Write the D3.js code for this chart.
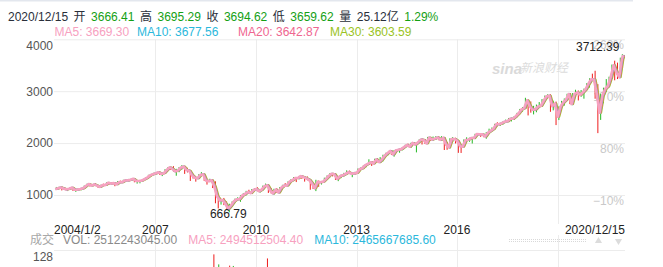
<!DOCTYPE html>
<html>
<head>
<meta charset="utf-8">
<script src="https://cdn.jsdelivr.net/npm/d3@7"></script>
<style>
  html, body { margin: 0; padding: 0; background: #fff; }
  svg text { font-family: "Liberation Sans", Arial, "Noto Sans CJK SC", sans-serif; font-size: 12px; }
</style>
</head>
<body>
<div id="chart"></div>
<script>
/* global d3 */

// ---- data ----------------------------------------------------------------
var firstMonth = "2004-01",
	startDate = "2004-01-02",
	endDate = "2020-12-15";

// monthly bars, one row per year (2004 .. 2020)
var opens = [
	1112, 1131, 1145, 1126, 1107, 1121, 1141, 1102, 1104, 1115, 1130, 1174,
	1212, 1181, 1204, 1181, 1157, 1192, 1191, 1234, 1220, 1229, 1207, 1249,
	1248, 1280, 1281, 1295, 1311, 1270, 1270, 1277, 1304, 1336, 1378, 1401,
	1418, 1438, 1407, 1421, 1482, 1531, 1503, 1455, 1474, 1527, 1549, 1481,
	1468, 1379, 1331, 1323, 1386, 1400, 1280, 1267, 1283, 1164, 969, 896,
	903, 823, 730, 798, 873, 919, 919, 987, 1021, 1057, 1036, 1096,
	1115, 1074, 1104, 1169, 1187, 1089, 1031, 1102, 1049, 1141, 1183, 1181,
	1258, 1286, 1327, 1326, 1364, 1345, 1321, 1292, 1219, 1131, 1253, 1247,
	1258, 1312, 1366, 1408, 1398, 1310, 1362, 1379, 1407, 1441, 1412, 1416,
	1426, 1498, 1515, 1569, 1598, 1631, 1606, 1686, 1633, 1682, 1757, 1806,
	1848, 1783, 1859, 1872, 1884, 1924, 1960, 1931, 2003, 1972, 2018, 2068,
	2059, 1995, 2105, 2068, 2086, 2107, 2063, 2104, 1972, 1920, 2079, 2080,
	2038, 1940, 1932, 2060, 2065, 2097, 2099, 2174, 2171, 2168, 2126, 2199,
	2251, 2279, 2364, 2363, 2384, 2412, 2423, 2470, 2472, 2521, 2575, 2648,
	2684, 2824, 2714, 2641, 2648, 2705, 2718, 2816, 2902, 2914, 2712, 2760,
	2507, 2704, 2784, 2849, 2946, 2752, 2971, 2980, 2926, 2977, 3050, 3141,
	3231, 3226, 2974, 2499, 2912, 3044, 3100, 3271, 3500, 3363, 3296, 3645
];
var highs = [
	1155, 1159, 1163, 1150, 1128, 1146, 1141, 1109, 1131, 1132, 1183, 1218,
	1217, 1212, 1229, 1192, 1199, 1219, 1246, 1246, 1243, 1233, 1270, 1276,
	1294, 1297, 1310, 1318, 1326, 1290, 1283, 1306, 1340, 1389, 1407, 1431,
	1441, 1461, 1438, 1499, 1535, 1541, 1556, 1504, 1538, 1576, 1552, 1524,
	1471, 1396, 1344, 1397, 1440, 1405, 1292, 1313, 1303, 1264, 1007, 918,
	943, 876, 832, 877, 930, 956, 997, 1039, 1080, 1101, 1113, 1130,
	1150, 1112, 1181, 1220, 1205, 1131, 1120, 1129, 1150, 1196, 1228, 1263,
	1303, 1345, 1333, 1367, 1371, 1345, 1357, 1307, 1230, 1293, 1278, 1269,
	1334, 1378, 1420, 1422, 1416, 1363, 1392, 1427, 1475, 1470, 1434, 1448,
	1510, 1530, 1570, 1598, 1688, 1654, 1698, 1709, 1730, 1776, 1813, 1849,
	1851, 1867, 1884, 1897, 1924, 1968, 1991, 2006, 2019, 2019, 2075, 2094,
	2072, 2119, 2117, 2126, 2135, 2130, 2133, 2113, 2021, 2094, 2116, 2104,
	2038, 1963, 2072, 2112, 2104, 2120, 2179, 2194, 2188, 2170, 2214, 2278,
	2301, 2371, 2401, 2392, 2419, 2454, 2484, 2491, 2520, 2582, 2658, 2695,
	2873, 2835, 2802, 2718, 2743, 2791, 2848, 2917, 2941, 2940, 2816, 2800,
	2708, 2814, 2860, 2950, 2954, 2964, 3028, 3014, 3022, 3050, 3154, 3248,
	3338, 3394, 3136, 2955, 3068, 3233, 3280, 3514, 3588, 3550, 3646, 3712.39
];
var lows = [
	1105, 1124, 1088, 1105, 1076, 1113, 1078, 1060, 1102, 1091, 1128, 1163,
	1163, 1180, 1171, 1137, 1146, 1188, 1184, 1201, 1205, 1169, 1201, 1246,
	1246, 1253, 1268, 1282, 1245, 1219, 1225, 1260, 1290, 1328, 1361, 1385,
	1403, 1389, 1364, 1412, 1476, 1484, 1451, 1371, 1439, 1490, 1407, 1435,
	1271, 1317, 1257, 1312, 1373, 1272, 1200, 1248, 1134, 840, 741, 815,
	805, 734, 666.79, 784, 866, 888, 869, 978, 991, 1020, 1030, 1086,
	1071, 1045, 1102, 1165, 1040, 1029, 1011, 1040, 1039, 1131, 1174, 1178,
	1257, 1283, 1249, 1299, 1311, 1258, 1283, 1101, 1115, 1075, 1158, 1202,
	1258, 1312, 1340, 1358, 1291, 1267, 1325, 1355, 1397, 1403, 1343, 1398,
	1426, 1485, 1501, 1536, 1582, 1560, 1605, 1627, 1633, 1647, 1747, 1768,
	1770, 1738, 1834, 1814, 1860, 1915, 1930, 1905, 1964, 1821, 2002, 1973,
	1988, 1981, 2040, 2048, 2067, 2056, 2044, 1867, 1871, 1893, 2020, 1993,
	1812, 1810, 1931, 2033, 2025, 1992, 2075, 2148, 2120, 2114, 2084, 2188,
	2245, 2271, 2322, 2329, 2353, 2405, 2408, 2417, 2446, 2520, 2567, 2605,
	2683, 2533, 2586, 2553, 2594, 2698, 2698, 2796, 2864, 2603, 2631, 2347,
	2444, 2682, 2722, 2849, 2751, 2729, 2953, 2822, 2892, 2856, 3050, 3070,
	3214, 2855, 2192, 2447, 2767, 2986, 3073, 3238, 3210, 3234, 3280, 3633
];
var closes = [
	1131, 1145, 1126, 1107, 1121, 1141, 1102, 1104, 1115, 1130, 1174, 1212,
	1181, 1204, 1181, 1157, 1192, 1191, 1234, 1220, 1229, 1207, 1249, 1248,
	1280, 1281, 1295, 1311, 1270, 1270, 1277, 1304, 1336, 1378, 1401, 1418,
	1438, 1407, 1421, 1482, 1531, 1503, 1455, 1474, 1527, 1549, 1481, 1468,
	1379, 1331, 1323, 1386, 1400, 1280, 1267, 1283, 1166, 969, 896, 903,
	826, 735, 798, 873, 919, 919, 987, 1021, 1057, 1036, 1096, 1115,
	1074, 1104, 1169, 1187, 1089, 1031, 1102, 1049, 1141, 1183, 1181, 1258,
	1286, 1327, 1326, 1364, 1345, 1321, 1292, 1219, 1131, 1253, 1247, 1258,
	1312, 1366, 1408, 1398, 1310, 1362, 1379, 1407, 1441, 1412, 1416, 1426,
	1498, 1515, 1569, 1598, 1631, 1606, 1686, 1633, 1682, 1757, 1806, 1848,
	1783, 1859, 1872, 1884, 1924, 1960, 1931, 2003, 1972, 2018, 2068, 2059,
	1995, 2105, 2068, 2086, 2107, 2063, 2104, 1972, 1920, 2079, 2080, 2044,
	1940, 1932, 2060, 2065, 2097, 2099, 2174, 2171, 2168, 2126, 2199, 2239,
	2279, 2364, 2363, 2384, 2412, 2423, 2470, 2472, 2519, 2575, 2648, 2674,
	2824, 2714, 2641, 2648, 2705, 2718, 2816, 2902, 2914, 2712, 2760, 2507,
	2704, 2784, 2834, 2946, 2752, 2942, 2980, 2926, 2977, 3038, 3141, 3231,
	3226, 2954, 2585, 2912, 3044, 3100, 3271, 3500, 3363, 3270, 3622, 3694.62
];

var priceTicks = [1000, 2000, 3000, 4000],
	basePrice = 1111.92,          // close before the first bar, for the % scale
	maPeriods = [5, 10, 20, 30],
	maNames = ["MA5", "MA10", "MA20", "MA30"],
	maValues = ["3669.30", "3677.56", "3642.87", "3603.59"];

// the few volume spikes that reach into the visible strip (unit: 亿)
var volDates = ["2008-09-29", "2008-11-21", "2009-03-20", "2009-04-29", "2010-05-06"],
	volValues = [114, 82, 78, 77, 101],
	volUp = [false, true, false, true, false],
	volTicks = [128];

var quoteDate = "2020/12/15",
	quoteLabels = ["开", "高", "收", "低", "量"],
	quoteValues = ["3666.41", "3695.29", "3694.62", "3659.62", "25.12亿"],
	quoteChange = "1.29%",
	volLegendNames = ["VOL", "MA5", "MA10"],
	volLegendValues = ["2512243045.00", "2494512504.40", "2465667685.60"];

// ---- layout --------------------------------------------------------------
var W = 663, H = 267,
	gridLeft = 54, gridRight = 625,
	plotLeft = 55, plotRight = 623,
	priceTop = 39.3, priceBottom = 224,
	volTop = 250, volBottom = 290,
	upColor = "#22b822", downColor = "#ee1c1c",
	gridColor = "#ececec",
	maColors = ["#f7a1bf", "#2bb8dc", "#ef6690", "#9ac324"],
	valueGreen = "#14a014",
	dark = "#2a2f3a";

var parseDay = d3.timeParse("%Y-%m-%d"),
	parseMonth = d3.timeParse("%Y-%m"),
	fmtDay = d3.timeFormat("%Y/%-m/%-d"),
	t0 = parseDay(startDate),
	t1 = parseDay(endDate);

var bars = closes.map(function(c, i) {
	var m0 = d3.timeMonth.offset(parseMonth(firstMonth), i),
		m1 = d3.timeMonth.offset(m0, 1),
		a = m0 < t0 ? t0 : m0,
		b = m1 > t1 ? t1 : d3.timeDay.offset(m1, -1);
	return { mid: new Date((+a + +b) / 2), end: b, open: opens[i], high: highs[i], low: lows[i], close: c };
});

var x = d3.scaleTime().domain([t0, t1]).range([plotLeft, plotRight]),
	y = d3.scaleLinear().domain([1000, 4000]).range([195, priceTop]),
	yVol = d3.scaleLinear().domain([0, 128]).range([volBottom, volTop]);

var svg = d3.select("#chart").append("svg")
	.attr("width", W)
	.attr("height", H);

svg.append("defs").append("clipPath").attr("id", "plot")
	.append("rect")
	.attr("x", gridLeft).attr("y", priceTop - 1)
	.attr("width", gridRight - gridLeft).attr("height", priceBottom - priceTop + 1);

// top border
svg.append("rect").attr("x", 0).attr("y", 0).attr("width", 633).attr("height", 1.5).attr("fill", "#e3e7ee");

// ---- header ----------------------------------------------------------------
var head = svg.append("text").attr("x", 8).attr("y", 20.5);
head.append("tspan").attr("fill", dark).text(quoteDate);
quoteLabels.forEach(function(l, i) {
	head.append("tspan").attr("dx", 5.5).attr("fill", dark).text(l);
	head.append("tspan").attr("dx", 5.5).attr("fill", i === 4 ? dark : valueGreen).text(quoteValues[i]);
});
head.append("tspan").attr("dx", 5.5).attr("fill", valueGreen).text(quoteChange);

var maLegendX = [54.5, 137, 238, 330];
svg.append("g").selectAll("text")
	.data(maNames)
	.join("text")
	.attr("x", function(d, i) { return maLegendX[i]; })
	.attr("y", 35.5)
	.attr("fill", function(d, i) { return maColors[i]; })
	.text(function(d, i) { return d + ": " + maValues[i]; });

// ---- grid + axes -------------------------------------------------------------
var yearTicks = x.ticks(d3.timeYear.every(3)).filter(function(d) { return d > t0; });

var vgrid = svg.append("g").attr("stroke", gridColor).attr("stroke-width", 1);
vgrid.selectAll("line.p")
	.data(yearTicks)
	.join("line")
	.attr("class", "p")
	.attr("x1", function(d) { return Math.round(x(d)) + 0.5; })
	.attr("x2", function(d) { return Math.round(x(d)) + 0.5; })
	.attr("y1", priceTop)
	.attr("y2", priceBottom);
vgrid.selectAll("line.v")
	.data(yearTicks)
	.join("line")
	.attr("class", "v")
	.attr("x1", function(d) { return Math.round(x(d)) + 0.5; })
	.attr("x2", function(d) { return Math.round(x(d)) + 0.5; })
	.attr("y1", 235)
	.attr("y2", H);

function styleAxis(g, topValue) {
	g.select(".domain").remove();
	g.selectAll(".tick line").attr("stroke", gridColor);
	g.selectAll(".tick text")
		.attr("fill", "#555")
		.style("font-size", "12px")
		.attr("dy", function(d) { return d === topValue ? 10 : "0.32em"; });
}

svg.append("g")
	.attr("transform", "translate(" + gridLeft + ",0)")
	.call(d3.axisLeft(y).tickValues(priceTicks).tickFormat(d3.format("d"))
		.tickSize(-(gridRight - gridLeft)).tickPadding(1))
	.attr("font-family", null)
	.call(styleAxis, 4000);

svg.append("g")
	.attr("transform", "translate(" + gridLeft + ",0)")
	.call(d3.axisLeft(yVol).tickValues(volTicks).tickFormat(d3.format("d"))
		.tickSize(-(gridRight - gridLeft)).tickPadding(1))
	.attr("font-family", null)
	.call(styleAxis, 128);

// percent scale on the right, relative to basePrice
svg.append("g").selectAll("text")
	.data(priceTicks)
	.join("text")
	.attr("x", gridRight - 1)
	.attr("y", function(d) { return y(d) + 10; })
	.attr("text-anchor", "end")
	.attr("fill", "#c9c9c9")
	.text(function(d) { return d3.format(".0f")((d / basePrice - 1) * 100) + "%"; });

// watermark
svg.append("text").attr("x", 492).attr("y", 74)
	.attr("fill", "#dadada").style("font-size", "15px").style("font-weight", "bold").style("font-style", "italic")
	.text("sina");
svg.append("text").attr("x", 520).attr("y", 72)
	.attr("fill", "#dcdcdc").style("font-style", "italic")
	.text("新浪财经");

// ---- price series ------------------------------------------------------------
var plot = svg.append("g").attr("clip-path", "url(#plot)");

// monthly high-low range, coloured by direction (green up / red down)
plot.append("g").selectAll("line")
	.data(bars)
	.join("line")
	.attr("stroke", function(d) { return d.close >= d.open ? upColor : downColor; })
	.attr("stroke-width", 1)
	.attr("x1", function(d) { return x(d.mid); })
	.attr("x2", function(d) { return x(d.mid); })
	.attr("y1", function(d) { return y(d.high); })
	.attr("y2", function(d) { return y(d.low); });

// close path: first open, then every month-end close
var closePts = [{ date: t0, v: opens[0] }].concat(bars.map(function(d) { return { date: d.end, v: d.close }; }));

// a daily MA of period k trails the price by (k-1)/2 trading days (~7/5 calendar days each)
maPeriods.slice().reverse().forEach(function(k) {
	var i = maPeriods.indexOf(k),
		lagMs = (k - 1) / 2 * 1.4 * 864e5;
	plot.append("path")
		.datum(closePts)
		.attr("fill", "none")
		.attr("stroke", maColors[i])
		.attr("stroke-width", i === 0 ? 2.6 : 2)
		.attr("stroke-linejoin", "round")
		.attr("d", d3.line()
			.x(function(d) { return x(new Date(+d.date + lagMs)); })
			.y(function(d) { return y(d.v); }));
});

// extreme labels
var hi = d3.greatest(bars, function(d) { return d.high; }),
	lo = d3.least(bars, function(d) { return d.low; });
svg.append("text")
	.attr("x", x(hi.mid) - 3)
	.attr("y", y(hi.high) - 3.5)
	.attr("text-anchor", "end")
	.attr("fill", "#222")
	.text(d3.format(".2f")(hi.high));
svg.append("text")
	.attr("x", x(lo.mid) - 1)
	.attr("y", y(lo.low) + 6)
	.attr("text-anchor", "middle")
	.attr("fill", "#222")
	.text(d3.format(".2f")(lo.low));

// ---- x labels ----------------------------------------------------------------
var xl = svg.append("g").attr("fill", "#222");
var lastLabel = xl.append("text").attr("x", gridRight).attr("y", 234).attr("text-anchor", "end").text(fmtDay(t1));
xl.append("text").attr("x", gridLeft).attr("y", 234).text(fmtDay(t0));
var lastLeft = gridRight - lastLabel.node().getComputedTextLength() - 4;
xl.selectAll("text.yr")
	.data(yearTicks.filter(function(d) { return x(d) + 14 < lastLeft; }))
	.join("text")
	.attr("class", "yr")
	.attr("x", function(d) { return x(d); })
	.attr("y", 234)
	.attr("text-anchor", "middle")
	.text(d3.timeFormat("%Y"));

// ---- volume ------------------------------------------------------------------
svg.append("text").attr("x", 30).attr("y", 244).attr("fill", "#a8a8a8").text("成交");
var volLegendX = [63, 188.3, 314.3],
	volLegendColors = ["#8a8a8a", maColors[0], maColors[1]];
svg.append("g").selectAll("text")
	.data(volLegendNames)
	.join("text")
	.attr("x", function(d, i) { return volLegendX[i]; })
	.attr("y", 244)
	.attr("fill", function(d, i) { return volLegendColors[i]; })
	.text(function(d, i) { return d + ": " + volLegendValues[i]; });

svg.append("g").selectAll("rect")
	.data(volDates)
	.join("rect")
	.attr("x", function(d) { return x(parseDay(d)) - 0.5; })
	.attr("width", 1)
	.attr("y", function(d, i) { return yVol(volValues[i]); })
	.attr("height", function(d, i) { return volBottom - yVol(volValues[i]); })
	.attr("fill", function(d, i) { return volUp[i] ? upColor : downColor; });

// drag handle + arrows
[239.5, 241.5].forEach(function(yy) {
	svg.append("line").attr("x1", 509).attr("x2", 586).attr("y1", yy).attr("y2", yy)
		.attr("stroke", "#d9d9d9").attr("stroke-dasharray", "1 1");
});
svg.append("path").attr("d", d3.symbol(d3.symbolTriangle, 22)())
	.attr("transform", "translate(598.5,241)").attr("fill", "#dcdcdc");
svg.append("path").attr("d", d3.symbol(d3.symbolTriangle, 22)())
	.attr("transform", "translate(618.5,241) rotate(180)").attr("fill", "#dcdcdc");
</script>
</body>
</html>
